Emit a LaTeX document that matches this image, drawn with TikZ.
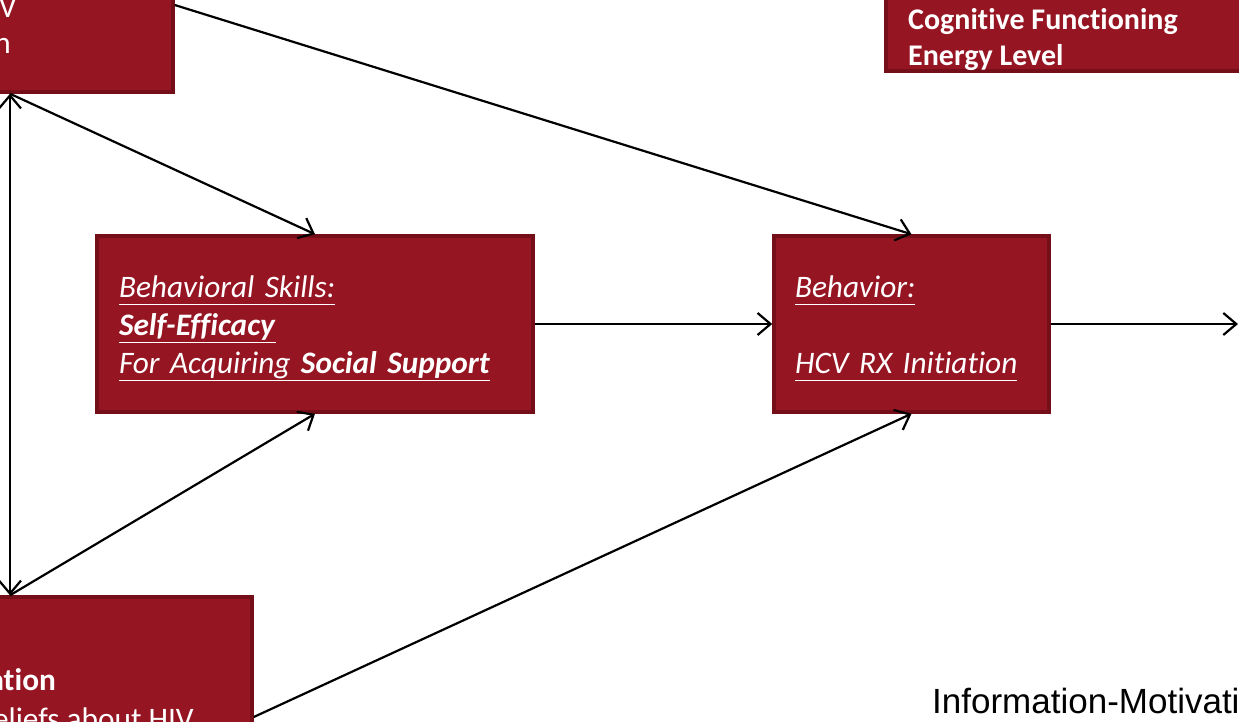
\documentclass[tikz,border=0pt]{standalone}
\usepackage{fontspec}
\setmainfont{Carlito}[Ligatures={NoCommon}]
\newfontfamily\arialfont{Liberation Sans}
\usetikzlibrary{arrows.meta}
\definecolor{rougeboite}{RGB}{150,21,34}
\definecolor{bordboite}{RGB}{116,14,24}
\newcommand{\taille}{\fontsize{31.3}{38}\selectfont}
\newcommand{\souligne}[1]{\underline{#1\vphantom{gy}}}
\newcommand{\haut}{\rule{0pt}{31pt}}
\tikzstyle{boite}=[draw=bordboite, fill=rougeboite, line width=3.5pt, text=white, inner sep=0, font=\taille, align=left]
\tikzstyle{texte}=[text=white, inner sep=0, font=\taille]
\tikzstyle{fleche}=[line width=2.2pt, -{Straight Barb[length=13pt,width=22pt]}]
\tikzstyle{double}=[line width=2.2pt, {Straight Barb[length=13pt,width=22pt]}-{Straight Barb[length=13pt,width=22pt]}]
\begin{document}
\begin{tikzpicture}[x=1pt,y=-1pt]
\clip (0,0) rectangle (1239,721);

% boites coupees par le bord
\node[boite, minimum width=326, minimum height=174] (info) at (10,5) {};
\node[texte, anchor=base east] (info1) at (17,17) {Knowledge about HIV};
\node[texte, anchor=base east] (info2) at (11,53) {Transmission};

\node[boite, minimum width=484, minimum height=240] (motiv) at (10,717) {};
\node[texte, anchor=base east, font=\taille\bfseries] (motiv1) at (56,690) {Motivation};
\node[texte, anchor=base east] (motiv2) at (194,729) {Beliefs about HIV};

\node[boite, minimum width=500, minimum height=150] (cogn) at (1136,-4) {};
\node[texte, anchor=base west, font=\fontsize{30}{34}\selectfont\bfseries] (cogn1) at (908,29) {Cognitive Functioning};
\node[texte, anchor=base west, font=\fontsize{30}{34}\selectfont\bfseries] (cogn2) at (908,65) {Energy Level};

% boites centrales
\node[boite, minimum width=436, minimum height=176, inner xsep=22, text width=392] (skills) at (315,324)
 {\haut\souligne{\textit{Behavioral Skills:}}\\
  \souligne{\textit{\textbf{Self-Efficacy}}}\\
  \souligne{\textit{For Acquiring \textbf{Social Support}}}};
\node[boite, minimum width=275, minimum height=176, inner xsep=21, text width=233] (behav) at (911.5,324)
 {\haut\souligne{\textit{Behavior:}}\\[38pt]
  \souligne{\textit{HCV RX Initiation}}};

\node[anchor=base west, inner sep=0, font=\arialfont\fontsize{35}{38}\selectfont] (titre) at (932,713)
 {Information-Motivation-Behavioral Skills Model};

% fleches
\coordinate (sortie) at (1238,324);
\draw[double] (info.south) -- (motiv.north);
\draw[fleche] (info.south) -- (skills.north);
\draw[fleche] (motiv.north) -- (skills.south);
\draw[fleche] (info.east) -- (behav.north);
\draw[fleche] (motiv.east) -- (behav.south);
\draw[fleche] (skills.east) -- (behav.west);
\draw[fleche] (behav.east) -- (sortie);
\end{tikzpicture}
\end{document}
